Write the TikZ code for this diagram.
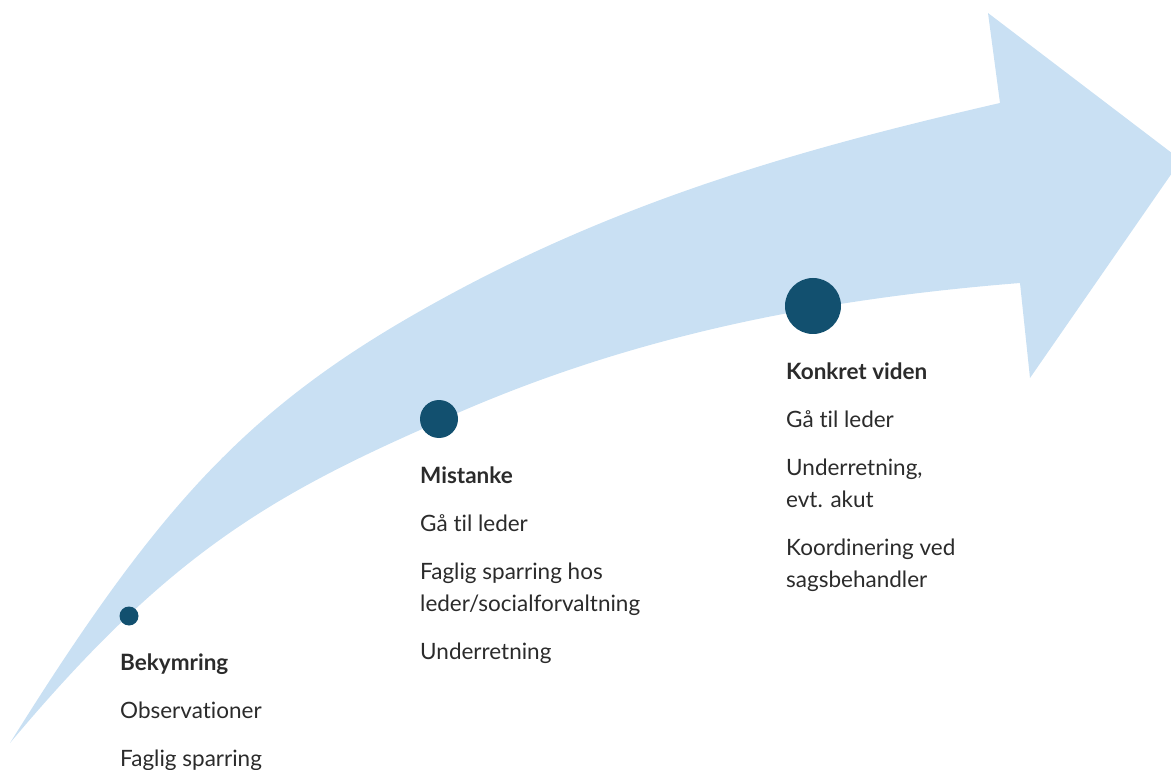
\documentclass[tikz,border=0pt]{standalone}
\usepackage{fontspec}
\setmainfont{Lato}[Ligatures={NoCommon}]
\definecolor{arrowblue}{HTML}{C9E0F3}
\definecolor{dotblue}{HTML}{12506F}
\definecolor{txtgray}{HTML}{2B2B2B}
\begin{document}
\begin{tikzpicture}[x=1pt,y=-1pt,
	dot/.style={circle,fill=dotblue,inner sep=0pt},
	steptext/.style={anchor=base west,align=left,inner sep=0pt,text=txtgray,font=\fontsize{22.5}{32}\selectfont}]
	\useasboundingbox (0,0) rectangle (1171,770);
	\fill[arrowblue] (10,743) .. controls (160,503) and (250,404) .. (440,300)
		.. controls (627,197) and (813,146) .. (1000,103)
		-- (988,13) -- (1181,160) -- (1030,378) -- (1020,283)
		.. controls (820,299) and (620,336) .. (420,430)
		.. controls (260,501) and (160,564) .. cycle;
	\node[dot,minimum size=19] (d1) at (129,616) {};
	\node[dot,minimum size=38] (d2) at (439,419) {};
	\node[dot,minimum size=56] (d3) at (813,306) {};
	\node[steptext] (bek) at (120,766) {\textbf{Bekymring}\\[16pt] Observationer\\[16pt] Faglig sparring};
	\node[steptext] (mis) at (420,659) {\textbf{Mistanke}\\[16pt] Gå til leder\\[16pt] Faglig sparring hos\\ leder/socialforvaltning\\[16pt] Underretning};
	\node[steptext] (kon) at (786,587) {\textbf{Konkret viden}\\[16pt] Gå til leder\\[16pt] Underretning,\\ evt. akut\\[16pt] Koordinering ved\\ sagsbehandler};
\end{tikzpicture}
\end{document}
